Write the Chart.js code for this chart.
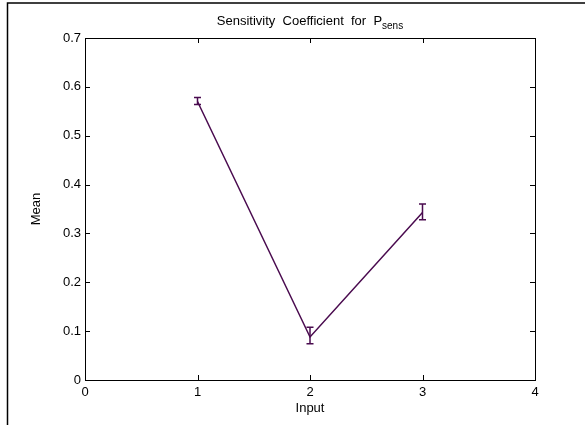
<!DOCTYPE html>
<html>
<head>
<meta charset="utf-8">
<script src="https://cdn.jsdelivr.net/npm/chart.js@4/dist/chart.umd.min.js"></script>
<style>
html,body{margin:0;padding:0;background:#fff;}
#wrap{width:585px;height:425px;}
</style>
</head>
<body>
<div id="wrap"><canvas id="c" width="585" height="425"></canvas></div>
<script>
// ---- data ----
const inputs = [1, 2, 3];
const means = [0.570, 0.088, 0.343];
const errLow = [0.564, 0.074, 0.328];
const errHigh = [0.578, 0.108, 0.360];
const xTickValues = [0, 1, 2, 3, 4];
const yTickValues = [0, 0.1, 0.2, 0.3, 0.4, 0.5, 0.6, 0.7];
const yTickLabels = ['0', '0.1', '0.2', '0.3', '0.4', '0.5', '0.6', '0.7'];
const xTickLabels = ['0', '1', '2', '3', '4'];
const titleMain = 'Sensitivity  Coefficient  for  P';
const titleSub = 'sens';

const lineColor = '#4a0b4f';
const FONT = 'Liberation Sans, Arial, sans-serif';

const framePlugin = {
  id: 'frame',
  beforeDraw(chart) {
    const ctx = chart.ctx;
    ctx.save();
    ctx.fillStyle = '#fff';
    ctx.fillRect(0, 0, chart.width, chart.height);
    ctx.strokeStyle = '#000';
    ctx.lineWidth = 1.5;
    ctx.beginPath();
    ctx.moveTo(7.5, chart.height);
    ctx.lineTo(7.5, 3);
    ctx.lineTo(chart.width, 3);
    ctx.stroke();
    ctx.restore();
  }
};

const boxPlugin = {
  id: 'box',
  afterDraw(chart) {
    const ctx = chart.ctx;
    const a = chart.chartArea;
    const xs = chart.scales.x, ys = chart.scales.y;
    const tl = 5;
    ctx.save();
    ctx.strokeStyle = '#000';
    ctx.lineWidth = 1;
    ctx.strokeRect(Math.round(a.left) + 0.5, Math.round(a.top) + 0.5, Math.round(a.right - a.left), Math.round(a.bottom - a.top));
    ctx.beginPath();
    xs.ticks.forEach(t => {
      const px = Math.round(xs.getPixelForValue(t.value)) + 0.5;
      ctx.moveTo(px, a.bottom); ctx.lineTo(px, a.bottom - tl);
      ctx.moveTo(px, a.top); ctx.lineTo(px, a.top + tl);
    });
    ys.ticks.forEach(t => {
      const py = Math.round(ys.getPixelForValue(t.value)) + 0.5;
      ctx.moveTo(a.left, py); ctx.lineTo(a.left + tl, py);
      ctx.moveTo(a.right, py); ctx.lineTo(a.right - tl, py);
    });
    ctx.stroke();

    // title with subscript
    ctx.fillStyle = '#000';
    ctx.textBaseline = 'alphabetic';
    ctx.font = '13px ' + FONT;
    const w1 = ctx.measureText(titleMain).width;
    ctx.font = '10px ' + FONT;
    const w2 = ctx.measureText(titleSub).width;
    const cx = (a.left + a.right) / 2;
    let x0 = cx - (w1 + w2) / 2;
    ctx.textAlign = 'left';
    ctx.font = '13px ' + FONT;
    ctx.fillText(titleMain, x0, 25);
    ctx.font = '10px ' + FONT;
    ctx.fillText(titleSub, x0 + w1, 29);
    ctx.restore();
  }
};

const errorBarPlugin = {
  id: 'errbars',
  afterDatasetsDraw(chart) {
    const ctx = chart.ctx;
    const xs = chart.scales.x, ys = chart.scales.y;
    ctx.save();
    ctx.strokeStyle = lineColor;
    ctx.lineWidth = 1.5;
    const cap = 3.5;
    inputs.forEach((xv, i) => {
      const px = xs.getPixelForValue(xv);
      const pl = ys.getPixelForValue(errLow[i]);
      const ph = ys.getPixelForValue(errHigh[i]);
      ctx.beginPath();
      ctx.moveTo(px, pl); ctx.lineTo(px, ph);
      ctx.moveTo(px - cap, pl); ctx.lineTo(px + cap, pl);
      ctx.moveTo(px - cap, ph); ctx.lineTo(px + cap, ph);
      ctx.stroke();
    });
    ctx.restore();
  }
};

new Chart(document.getElementById('c'), {
  type: 'line',
  data: {
    datasets: [{
      data: inputs.map((x, i) => ({x: x, y: means[i]})),
      borderColor: lineColor,
      borderWidth: 1.5,
      pointRadius: 0,
      fill: false,
      tension: 0
    }]
  },
  options: {
    responsive: false,
    animation: false,
    devicePixelRatio: 1,
    layout: {padding: {left: 0, right: 50, top: 38, bottom: 0}},
    plugins: {legend: {display: false}, tooltip: {enabled: false}, title: {display: false}},
    scales: {
      x: {
        type: 'linear',
        min: 0, max: 4,
        afterBuildTicks: s => { s.ticks = xTickValues.map(v => ({value: v})); },
        afterFit: s => { s.height = 45; },
        grid: {display: false, drawTicks: false},
        border: {display: false},
        ticks: {
          color: '#000',
          font: {family: FONT, size: 13},
          padding: 5,
          maxRotation: 0,
          callback: (v, i) => xTickLabels[i]
        },
        title: {display: true, text: 'Input', color: '#000', font: {family: FONT, size: 13}, padding: {top: 0, bottom: 9}}
      },
      y: {
        type: 'linear',
        min: 0, max: 0.7,
        afterBuildTicks: s => { s.ticks = yTickValues.map(v => ({value: v})); },
        afterFit: s => { s.width = 85; },
        grid: {display: false, drawTicks: false},
        border: {display: false},
        ticks: {
          color: '#000',
          font: {family: FONT, size: 13},
          padding: 4,
          callback: (v, i) => yTickLabels[i]
        },
        title: {display: true, text: 'Mean', color: '#000', font: {family: FONT, size: 13}, padding: {top: 29, bottom: 0}}
      }
    }
  },
  plugins: [framePlugin, errorBarPlugin, boxPlugin]
});
</script>
</body>
</html>
